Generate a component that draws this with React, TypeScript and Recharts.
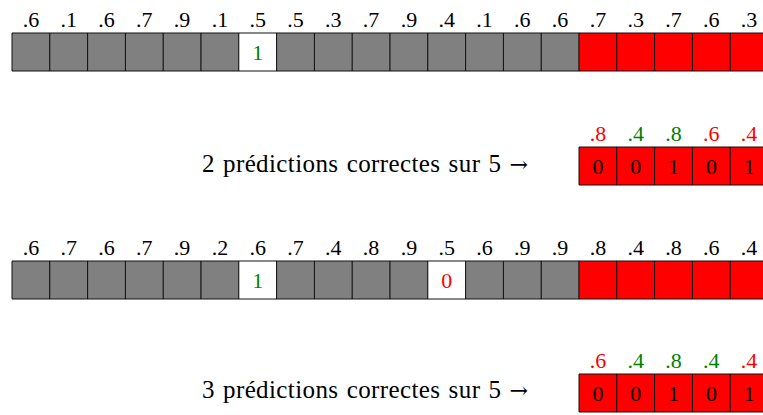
import { BarChart, Bar, XAxis, YAxis, Cell, LabelList } from 'recharts';

// première et troisième ligne : probabilités au-dessus de chaque case
const row1Probs = ['.6', '.1', '.6', '.7', '.9', '.1', '.5', '.5', '.3', '.7', '.9', '.4', '.1', '.6', '.6', '.7', '.3', '.7', '.6', '.3'];
const row3Probs = ['.6', '.7', '.6', '.7', '.9', '.2', '.6', '.7', '.4', '.8', '.9', '.5', '.6', '.9', '.9', '.8', '.4', '.8', '.6', '.4'];

// cases révélées : [position, étiquette]
const row1Revealed: [number, number][] = [[6, 1]];
const row3Revealed: [number, number][] = [[6, 1], [11, 0]];

// prédictions sur les 5 cases de test
const pred2Probs = ['.8', '.4', '.8', '.6', '.4'];
const pred4Probs = ['.6', '.4', '.8', '.4', '.4'];
const testLabels = [0, 0, 1, 0, 1];

const sentence2 = '2 prédictions correctes sur 5';
const sentence4 = '3 prédictions correctes sur 5';

const TRAIN = 15;
const GRAY = '#808080';
const RED = '#ff0000';
const GREEN = '#008000';
const FONT = '"Liberation Serif"';
const FS = 22;
const SENT_FS = 25;

const isCorrect = (p: string, label: number) => (parseFloat(p) >= 0.5 ? 1 : 0) === label;

function buildRow(probs: string[], revealed: [number, number][]) {
  return probs.map((p, i) => {
    const rev = revealed.find((r) => r[0] === i);
    const ok = rev ? isCorrect(p, rev[1]) : false;
    return {
      idx: i,
      top: p,
      topColor: '#000',
      v: 1,
      fill: i >= TRAIN ? RED : rev ? '#fff' : GRAY,
      textGreen: rev && ok ? String(rev[1]) : '',
      textRed: rev && !ok ? String(rev[1]) : '',
      textBlack: '',
    };
  });
}

function buildPredRow(preds: string[]) {
  return row1Probs.map((_, i) => {
    if (i < TRAIN) {
      return { idx: i, top: '', topColor: '#000', v: null, fill: RED, textGreen: '', textRed: '', textBlack: '' };
    }
    const j = i - TRAIN;
    return {
      idx: i,
      top: preds[j],
      topColor: isCorrect(preds[j], testLabels[j]) ? GREEN : RED,
      v: 1,
      fill: RED,
      textGreen: '',
      textRed: '',
      textBlack: String(testLabels[j]),
    };
  });
}

type RowDatum = ReturnType<typeof buildRow>[number] | ReturnType<typeof buildPredRow>[number];

function CellRow({ data, top }: { data: RowDatum[]; top: number }) {
  const TopTick = (props: any) => {
    const d = data[props.index];
    if (!d || !d.top) return <g />;
    return (
      <text x={props.x} y={props.y} textAnchor="middle" fontSize={FS} fill={d.topColor} fontFamily={FONT}>
        {d.top}
      </text>
    );
  };
  return (
    <div style={{ position: 'absolute', left: 0, top: top - 33 }}>
      <BarChart
        width={770}
        height={72}
        data={data}
        margin={{ top: 0, right: 2, bottom: 1, left: 12 }}
        barCategoryGap={0}
        barGap={0}
      >
        <XAxis
          dataKey="idx"
          orientation="top"
          height={33}
          axisLine={false}
          tickLine={false}
          tickSize={0}
          tickMargin={6}
          interval={0}
          tick={TopTick}
        />
        <YAxis hide domain={[0, 1]} />
        <Bar dataKey="v" isAnimationActive={false} stroke="#111" strokeWidth={1}>
          {data.map((d, i) => (
            <Cell key={i} fill={d.fill} />
          ))}
          <LabelList dataKey="textGreen" position="center" fill={GREEN} fontSize={FS} fontFamily={FONT} />
          <LabelList dataKey="textRed" position="center" fill={RED} fontSize={FS} fontFamily={FONT} />
          <LabelList dataKey="textBlack" position="center" fill="#000" fontSize={FS} fontFamily={FONT} />
        </Bar>
      </BarChart>
    </div>
  );
}

function Sentence({ text, baseline }: { text: string; baseline: number }) {
  return (
    <div
      style={{
        position: 'absolute',
        right: 763 - 528,
        top: baseline - 0.8375 * SENT_FS,
        fontSize: SENT_FS,
        lineHeight: 1,
        fontFamily: FONT,
        letterSpacing: 0.4,
        wordSpacing: 1.5,
        color: '#000',
        whiteSpace: 'nowrap',
      }}
    >
      {text}{' '}
      <span style={{ fontFamily: '"DejaVu Serif"', fontSize: 22, letterSpacing: 0 }}>→</span>
    </div>
  );
}

export default function App() {
  const row1 = buildRow(row1Probs, row1Revealed);
  const row2 = buildPredRow(pred2Probs);
  const row3 = buildRow(row3Probs, row3Revealed);
  const row4 = buildPredRow(pred4Probs);
  return (
    <div
      style={{
        position: 'absolute',
        left: 0,
        top: 0,
        width: 763,
        height: 415,
        overflow: 'hidden',
        background: '#fff',
        fontFamily: FONT,
      }}
    >
      <CellRow data={row1} top={33} />
      <CellRow data={row2} top={147} />
      <Sentence text={sentence2} baseline={172} />
      <CellRow data={row3} top={261} />
      <CellRow data={row4} top={374} />
      <Sentence text={sentence4} baseline={398} />
    </div>
  );
}
